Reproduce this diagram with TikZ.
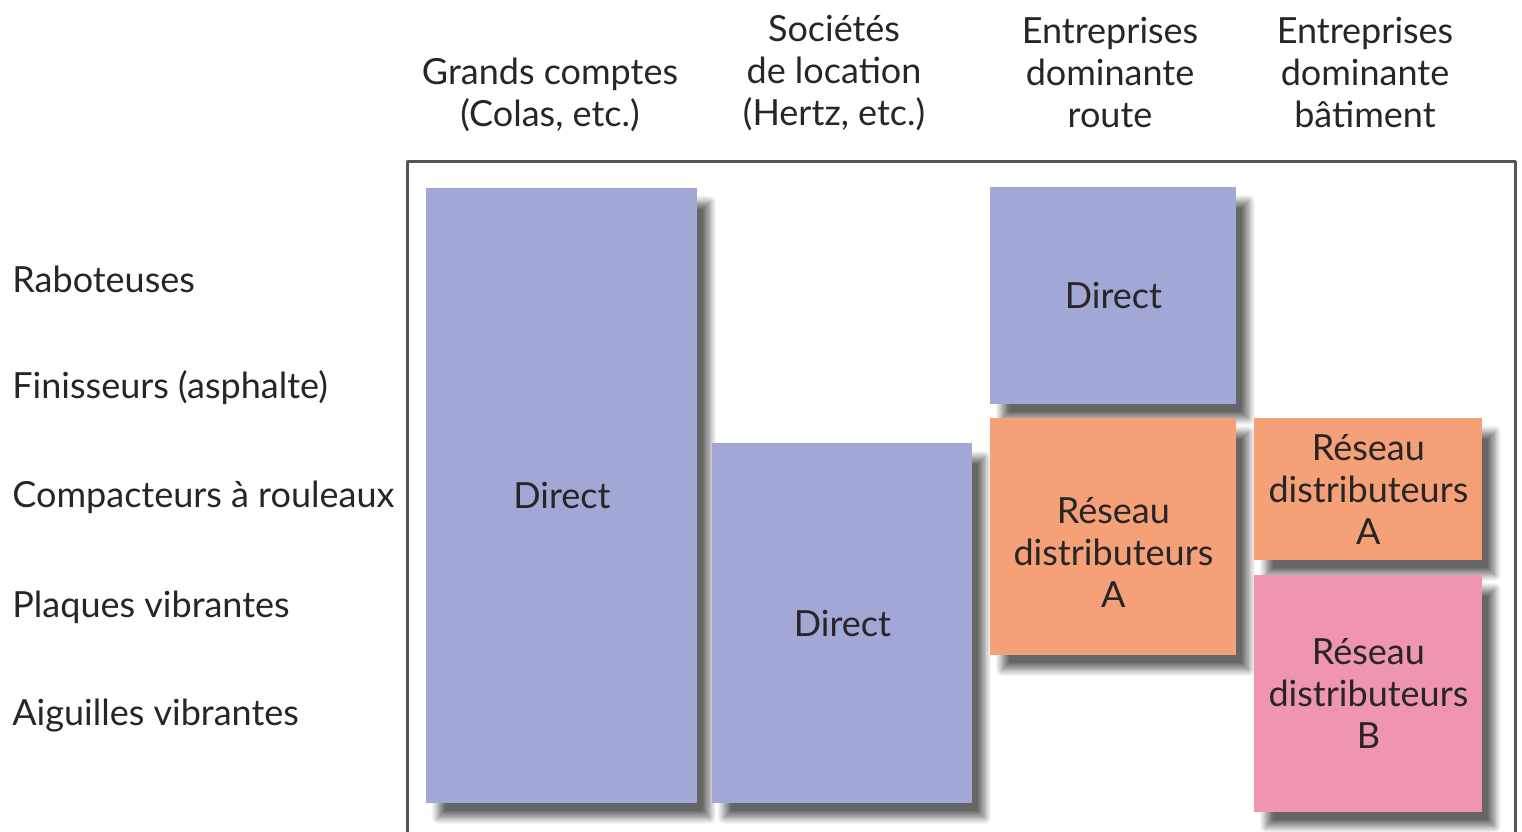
\documentclass[tikz,border=0pt]{standalone}
\usepackage{fontspec}
\setmainfont{Lato}
\usetikzlibrary{shadows.blur}
\definecolor{bleubox}{HTML}{A2A8D5}
\definecolor{orangebox}{HTML}{F5A077}
\definecolor{rosebox}{HTML}{EF96AE}
\definecolor{cadre}{HTML}{555555}
\begin{document}
\begin{tikzpicture}[x=0.5pt,y=-0.5pt,line join=round]
	\tikzset{every node/.style={font=\fontsize{18}{21}\selectfont,text=black!85},
		bloc/.style={anchor=north west,inner sep=0pt,align=center,
			blur shadow={shadow xshift=6pt,shadow yshift=-7pt,shadow blur radius=3.5pt,shadow blur steps=12,shadow opacity=60}},
		tete/.style={align=center,inner sep=0pt},
		ligne/.style={anchor=west,inner sep=0pt}}
	\useasboundingbox (0,0) rectangle (1522,831);
	\draw[cadre,line width=1.5pt] (407,850)--(407,161)--(1515,161)--(1515,850);
	% en-tetes des colonnes
	\node[tete] (gc) at (550,95) {Grands comptes\\(Colas, etc.)};
	\node[tete] (loc) at (834,73) {Sociétés\\de location\\(Hertz, etc.)};
	\node[tete] (route) at (1110,73) {Entreprises\\dominante\\route};
	\node[tete] (bat) at (1365,73) {Entreprises\\dominante\\bâtiment};
	% lignes (machines)
	\foreach \y/\txt/\nm in {279/Raboteuses/rab,388/Finisseurs (asphalte)/fin,497/Compacteurs à rouleaux/comp,607/Plaques vibrantes/plaq,716/Aiguilles vibrantes/aig}
		\node[ligne] (\nm) at (12,\y) {\txt};
	% canaux
	\node[bloc,fill=bleubox,minimum width=135.5pt,minimum height=307.5pt] (gcdirect) at (426,188) {Direct};
	\node[bloc,fill=bleubox,minimum width=130pt,minimum height=180pt] (locdirect) at (712,443) {Direct};
	\node[bloc,fill=bleubox,minimum width=123pt,minimum height=108.5pt] (routedirect) at (990,187) {Direct};
	\node[bloc,fill=orangebox,minimum width=123pt,minimum height=118.5pt] (routereseau) at (990,418) {};
	\node[tete] (routereseautxt) at ([yshift=-8pt]routereseau.center) {Réseau\\distributeurs\\A};
	\node[bloc,fill=orangebox,minimum width=114pt,minimum height=71pt] (batreseaua) at (1254,418) {Réseau\\distributeurs\\A};
	\node[bloc,fill=rosebox,minimum width=114pt,minimum height=118.5pt] (batreseaub) at (1254,575) {Réseau\\distributeurs\\B};
\end{tikzpicture}
\end{document}
